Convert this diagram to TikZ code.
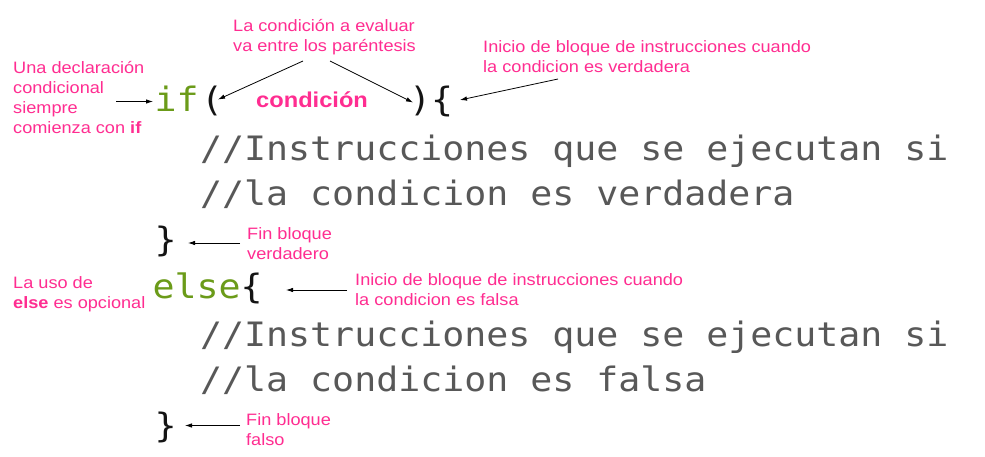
\documentclass[tikz,border=0pt]{standalone}
\usepackage{fontspec}
\setmainfont[FakeStretch=1.1]{Liberation Sans}
\newfontfamily\codefont[FakeStretch=1.088]{DejaVu Sans Mono}
\usetikzlibrary{arrows.meta}
\definecolor{pinkann}{RGB}{255,45,145}
\definecolor{kwgreen}{RGB}{107,155,25}
\definecolor{cmtgray}{RGB}{88,88,88}
\definecolor{brk}{RGB}{20,20,20}
\begin{document}
\begin{tikzpicture}[x=1pt,y=-1pt,
  note/.style={inner sep=0pt, anchor=base west, align=left, text=pinkann, font=\fontsize{16.5}{20}\selectfont},
  code/.style={inner sep=0pt, anchor=base west, font=\codefont\fontsize{33.6}{40}\selectfont},
  kw/.style={code, text=kwgreen},
  cmt/.style={code, text=cmtgray},
  brace/.style={code, text=brk},
  callout/.style={draw=black, line width=0.8pt, -{Latex[length=7pt,width=4.5pt]}}
]
\useasboundingbox[fill=white] (0,0) rectangle (985,457);

% code
\node[kw] (kwif) at (154.5,112) {if};
\node[brace] (lpar) at (201,112) {(};
\node[note, font=\bfseries\fontsize{21.5}{24}\selectfont] (cond) at (256,108) {condición};
\node[brace] (rpar) at (409,112) {)};
\node[brace] (lbrace1) at (431,112) {\{};
\node[cmt] (c1) at (200,161) {//Instrucciones que se ejecutan si};
\node[cmt] (c2) at (200,206) {//la condicion es verdadera};
\node[brace] (rbrace1) at (154.5,251.5) {\}};
\node[kw] (kwelse) at (152.5,298) {else};
\node[brace] (lbrace2) at (240.5,298) {\{};
\node[cmt] (c3) at (200,346) {//Instrucciones que se ejecutan si};
\node[cmt] (c4) at (200,391) {//la condicion es falsa};
\node[brace] (rbrace2) at (154.5,437.5) {\}};

% annotations (base anchor = baseline of the last line)
\node[note] (nif) at (13,134) {Una declaración\\condicional\\siempre\\comienza con \textbf{if}};
\node[note] (ncond) at (233,52) {La condición a evaluar\\va entre los paréntesis};
\node[note] (ntrue) at (483,73) {Inicio de bloque de instrucciones cuando\\la condicion es verdadera};
\node[note] (nfin1) at (247,259) {Fin bloque\\verdadero};
\node[note] (nelse) at (13,308) {La uso de\\\textbf{else} es opcional};
\node[note] (nfalse) at (355,305) {Inicio de bloque de instrucciones cuando\\la condicion es falsa};
\node[note] (nfin2) at (246,445) {Fin bloque\\falso};

% arrow ends
\coordinate (aifs) at (116,101.5);  \coordinate (aife) at (153,101.5);
\coordinate (alps) at (303,61);     \coordinate (alpe) at (218,99.5);
\coordinate (arps) at (330,61);     \coordinate (arpe) at (413,102.5);
\coordinate (albs) at (558,79);     \coordinate (albe) at (460,100);
\coordinate (arbs) at (240,243);    \coordinate (arbe) at (188,243);
\coordinate (aels) at (347,290);    \coordinate (aele) at (286,290);
\coordinate (afbs) at (240,425.5);  \coordinate (afbe) at (185,425.5);

\draw[callout] (aifs) -- (aife);
\draw[callout] (alps) -- (alpe);
\draw[callout] (arps) -- (arpe);
\draw[callout] (albs) -- (albe);
\draw[callout] (arbs) -- (arbe);
\draw[callout] (aels) -- (aele);
\draw[callout] (afbs) -- (afbe);
\end{tikzpicture}
\end{document}
